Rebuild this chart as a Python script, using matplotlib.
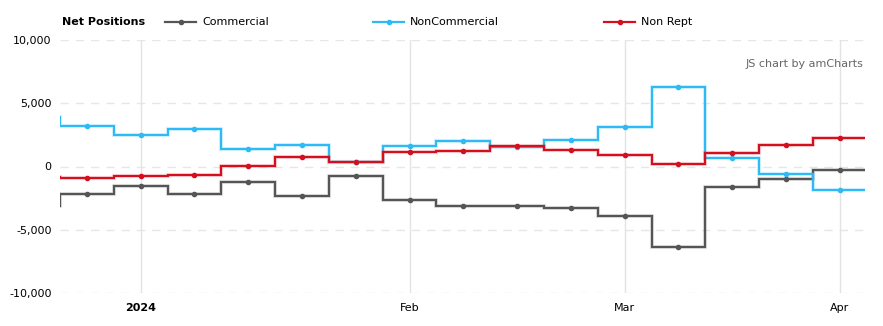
import matplotlib
matplotlib.use("Agg")
import matplotlib.pyplot as plt
from matplotlib.lines import Line2D
import matplotlib.patheffects as pe

# Weekly report dates (Tuesdays)
dates = ["2023-12-19", "2023-12-26", "2024-01-02", "2024-01-09", "2024-01-16",
         "2024-01-23", "2024-01-30", "2024-02-06", "2024-02-13", "2024-02-20",
         "2024-02-27", "2024-03-05", "2024-03-12", "2024-03-19", "2024-03-26",
         "2024-04-02"]

commercial = [-3150, -2200, -1550, -2200, -1240, -2370, -720, -2630, -3135,
              -3130, -3290, -3900, -6375, -1630, -975, -265]
non_commercial = [3950, 3185, 2475, 2950, 1345, 1685, 380, 1605, 2000,
                  1560, 2080, 3105, 6265, 710, -580, -1870]
non_rept = [-800, -940, -765, -685, 25, 735, 370, 1130, 1210,
            1600, 1290, 890, 180, 1080, 1685, 2235]

series_names = ["Commercial", "NonCommercial", "Non Rept"]
series_colors = ["#555555", "#2ebaf4", "#d4101f"]

month_ticks = ["2024-01-02", "2024-02-06", "2024-03-05", "2024-04-02"]
month_labels = ["2024", "Feb", "Mar", "Apr"]

y_ticks = [-10000, -5000, 0, 5000, 10000]
y_labels = ["-10,000", "-5,000", "0", "5,000", "10,000"]

W, H = 883, 326
fig = plt.figure(figsize=(W / 100, H / 100), dpi=100)
ax = fig.add_axes([60 / W, (H - 293) / H, 805 / W, 253 / H])

x = list(range(len(dates)))
edges = [i - 0.5 for i in x] + [len(x) - 0.5]
ax.set_xlim(0.5, 15.47)
ax.set_ylim(-10000, 10000)

for name, vals, col in zip(series_names, [commercial, non_commercial, non_rept], series_colors):
    ax.stairs(vals, edges, baseline=None, color=col, lw=1.6, zorder=3,
              path_effects=[pe.Stroke(linewidth=3.0, foreground=col, alpha=0.15), pe.Normal()])
    ax.plot(x, vals, "o", color=col, ms=3.0, zorder=4)

# grid
for yt in y_ticks:
    ax.axhline(yt, color="#e6e6e6", lw=1, ls=(0, (6, 5)), zorder=1)
tick_pos = [dates.index(d) for d in month_ticks]
for xp in tick_pos:
    ax.axvline(xp, color="#e3e3e3", lw=1, zorder=1)

for s in ax.spines.values():
    s.set_visible(False)
ax.tick_params(length=0)
ax.set_yticks(y_ticks)
ax.set_yticklabels(y_labels, fontsize=8, color="#000000")
ax.tick_params(axis="y", pad=6)
ax.set_xticks(tick_pos)
ax.set_xticklabels(month_labels, fontsize=8, color="#000000")
ax.tick_params(axis="x", pad=7)
ax.get_xticklabels()[0].set_fontweight("bold")

ax.text(0.998, 0.905, "JS chart by amCharts", transform=ax.transAxes,
        ha="right", va="center", fontsize=8, color="#666666")

# legend row
ly = 1 - 22 / H
fig.text(62 / W, ly, "Net Positions", fontsize=8, fontweight="bold", ha="left", va="center")
legend_x = [165, 373, 604]
for lx, name, col in zip(legend_x, series_names, series_colors):
    fig.add_artist(Line2D([lx / W, (lx + 31) / W], [ly, ly], color=col, lw=1.6,
                          transform=fig.transFigure))
    fig.add_artist(Line2D([(lx + 15.5) / W], [ly], marker="o", ms=3.0, color=col,
                          transform=fig.transFigure))
    fig.text((lx + 37) / W, ly, name, fontsize=8, ha="left", va="center")

fig.savefig("out.png", dpi=100)
